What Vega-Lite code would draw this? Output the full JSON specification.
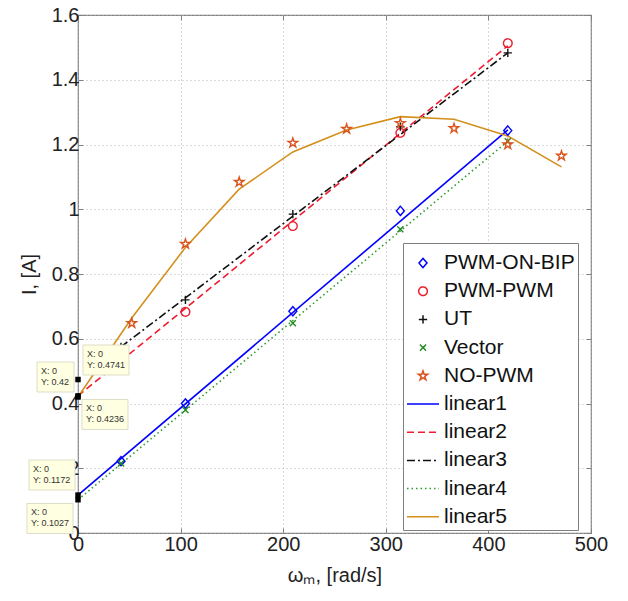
{
  "$schema": "https://vega.github.io/schema/vega-lite/v6.json",
  "width": 513,
  "height": 518,
  "autosize": {"type": "none"},
  "padding": {"left": 78, "top": 15, "right": 37, "bottom": 68},
  "background": "white",
  "config": {"view": {"stroke": "#808080", "strokeWidth": 1.2}, "font": "Liberation Sans"},
  "datasets": {
    "pts": [
      {"series": "PWM-ON-BIP", "w": 41.9, "i": 0.222},
      {"series": "PWM-ON-BIP", "w": 104.7, "i": 0.4},
      {"series": "PWM-ON-BIP", "w": 209.4, "i": 0.685},
      {"series": "PWM-ON-BIP", "w": 314.2, "i": 0.995},
      {"series": "PWM-ON-BIP", "w": 418.9, "i": 1.243},
      {"series": "PWM-PWM", "w": 104.7, "i": 0.683},
      {"series": "PWM-PWM", "w": 209.4, "i": 0.948},
      {"series": "PWM-PWM", "w": 314.2, "i": 1.236},
      {"series": "PWM-PWM", "w": 418.9, "i": 1.513},
      {"series": "UT", "w": 41.9, "i": 0.575},
      {"series": "UT", "w": 104.7, "i": 0.72},
      {"series": "UT", "w": 209.4, "i": 0.985},
      {"series": "UT", "w": 314.2, "i": 1.255},
      {"series": "UT", "w": 418.9, "i": 1.483},
      {"series": "Vector", "w": 41.9, "i": 0.215},
      {"series": "Vector", "w": 104.7, "i": 0.38},
      {"series": "Vector", "w": 209.4, "i": 0.648},
      {"series": "Vector", "w": 314.2, "i": 0.938},
      {"series": "Vector", "w": 418.9, "i": 1.21},
      {"series": "NO-PWM", "w": 52.4, "i": 0.648},
      {"series": "NO-PWM", "w": 104.7, "i": 0.893},
      {"series": "NO-PWM", "w": 157.1, "i": 1.084},
      {"series": "NO-PWM", "w": 209.4, "i": 1.205},
      {"series": "NO-PWM", "w": 261.8, "i": 1.248},
      {"series": "NO-PWM", "w": 314.2, "i": 1.266},
      {"series": "NO-PWM", "w": 366.5, "i": 1.25},
      {"series": "NO-PWM", "w": 418.9, "i": 1.2},
      {"series": "NO-PWM", "w": 471.2, "i": 1.165}
    ],
    "lines": [
      {"series": "linear1", "w": 0, "i": 0.1172},
      {"series": "linear1", "w": 418.9, "i": 1.245},
      {"series": "linear2", "w": 0, "i": 0.4236},
      {"series": "linear2", "w": 418.9, "i": 1.505},
      {"series": "linear3", "w": 41.9, "i": 0.575},
      {"series": "linear3", "w": 418.9, "i": 1.483},
      {"series": "linear4", "w": 0, "i": 0.1027},
      {"series": "linear4", "w": 418.9, "i": 1.21},
      {"series": "linear5", "w": 0, "i": 0.42},
      {"series": "linear5", "w": 52.4, "i": 0.664},
      {"series": "linear5", "w": 104.7, "i": 0.882},
      {"series": "linear5", "w": 157.1, "i": 1.062},
      {"series": "linear5", "w": 209.4, "i": 1.177},
      {"series": "linear5", "w": 261.8, "i": 1.245},
      {"series": "linear5", "w": 314.2, "i": 1.286},
      {"series": "linear5", "w": 366.5, "i": 1.278},
      {"series": "linear5", "w": 418.9, "i": 1.226},
      {"series": "linear5", "w": 471.2, "i": 1.131}
    ],
    "tips": [
      {"id": 1, "w": 0, "i": 0.4741, "label": "X: 0\nY: 0.4741"},
      {"id": 2, "w": 0, "i": 0.42, "label": "X: 0\nY: 0.42"},
      {"id": 3, "w": 0, "i": 0.4236, "label": "X: 0\nY: 0.4236"},
      {"id": 4, "w": 0, "i": 0.1172, "label": "X: 0\nY: 0.1172"},
      {"id": 5, "w": 0, "i": 0.1027, "label": "X: 0\nY: 0.1027"}
    ]
  },
  "encoding": {
    "x": {
      "field": "w", "type": "quantitative",
      "scale": {"domain": [0, 500], "nice": false, "zero": false},
      "axis": {
        "orient": "bottom", "values": [0, 100, 200, 300, 400, 500], "format": "d", "labelFlush": false,
        "grid": true, "gridColor": "#b4b4b4", "gridDash": [1, 3], "gridWidth": 1,
        "domain": false, "ticks": true, "tickSize": -5, "tickColor": "#808080",
        "labelFontSize": 20, "labelColor": "#222", "labelPadding": 6, "labelFont": "Liberation Sans",
        "title": "ωₘ, [rad/s]", "titleFontSize": 20, "titleFontWeight": "normal", "titleColor": "#222",
        "titleFont": "Liberation Sans", "titlePadding": 11
      }
    },
    "y": {
      "field": "i", "type": "quantitative",
      "scale": {"domain": [0, 1.6], "nice": false, "zero": false},
      "axis": {
        "orient": "left", "values": [0, 0.2, 0.4, 0.6, 0.8, 1, 1.2, 1.4, 1.6], "format": "~g", "labelFlush": false,
        "grid": true, "gridColor": "#b4b4b4", "gridDash": [1, 3], "gridWidth": 1,
        "domain": false, "ticks": true, "tickSize": -5, "tickColor": "#808080",
        "labelFontSize": 20, "labelColor": "#222", "labelPadding": 4, "labelFont": "Liberation Sans",
        "title": "I, [A]", "titleFontSize": 20, "titleFontWeight": "normal", "titleColor": "#222",
        "titleFont": "Liberation Sans", "titlePadding": 12
      }
    }
  },
  "layer": [
    {
      "data": {"name": "lines"},
      "layer": [
        {
          "transform": [{"filter": "datum.series == 'linear1'"}],
          "mark": {"type": "line", "strokeWidth": 1.6, "clip": false, "color": "#0000ff"},
          "encoding": {}
        },
        {
          "transform": [{"filter": "datum.series == 'linear2'"}],
          "mark": {"type": "line", "strokeWidth": 1.6, "clip": false, "color": "#ee1c2e", "strokeDash": [7, 4]},
          "encoding": {}
        },
        {
          "transform": [{"filter": "datum.series == 'linear3'"}],
          "mark": {"type": "line", "strokeWidth": 1.6, "clip": false, "color": "#111111", "strokeDash": [8, 3, 2, 3]},
          "encoding": {}
        },
        {
          "transform": [{"filter": "datum.series == 'linear4'"}],
          "mark": {"type": "line", "strokeWidth": 1.6, "clip": false, "color": "#2e9a2e", "strokeDash": [1.5, 3]},
          "encoding": {}
        },
        {
          "transform": [{"filter": "datum.series == 'linear5'"}],
          "mark": {"type": "line", "strokeWidth": 1.6, "clip": false, "color": "#d4901e"},
          "encoding": {}
        }
      ]
    },
    {
      "data": {"name": "pts"},
      "mark": {"type": "point", "filled": false, "size": 1024, "strokeWidth": 1.4, "opacity": 1},
      "encoding": {
        "x": {
          "field": "w", "type": "quantitative",
          "scale": {"domain": [0, 500], "nice": false, "zero": false},
          "axis": {"orient": "top", "values": [0, 100, 200, 300, 400, 500], "labels": false, "grid": false, "domain": false, "ticks": true, "tickSize": -5, "tickColor": "#808080", "title": null}
        },
        "y": {
          "field": "i", "type": "quantitative",
          "scale": {"domain": [0, 1.6], "nice": false, "zero": false},
          "axis": {"orient": "right", "values": [0, 0.2, 0.4, 0.6, 0.8, 1, 1.2, 1.4, 1.6], "labels": false, "grid": false, "domain": false, "ticks": true, "tickSize": -5, "tickColor": "#808080", "title": null}
        },
        "color": {
          "field": "series", "type": "nominal",
          "scale": {
            "domain": ["PWM-ON-BIP", "PWM-PWM", "UT", "Vector", "NO-PWM", "linear1", "linear2", "linear3", "linear4", "linear5"],
            "range": ["#0000ff", "#ee1c2e", "#111111", "#228b22", "#d9541e", "#0000ff", "#ee1c2e", "#111111", "#2e9a2e", "#d4901e"]
          },
          "legend": {
            "title": null, "orient": "none", "legendX": 325, "legendY": 228, "padding": 3,
            "fillColor": "white", "strokeColor": "#808080", "labelFont": "Liberation Sans", "labelFontSize": 21,
            "labelColor": "#111", "symbolSize": 1024, "symbolStrokeWidth": 1.5, "rowPadding": 1.2, "labelOffset": 4, "labelLimit": 300,
            "encode": {"symbols": {"update": {"fill": {"value": "transparent"}}}}
          }
        },
        "shape": {
          "field": "series", "type": "nominal",
          "scale": {
            "domain": ["PWM-ON-BIP", "PWM-PWM", "UT", "Vector", "NO-PWM", "linear1", "linear2", "linear3", "linear4", "linear5"],
            "range": [
              "M-0.25,0L0,-0.29L0.25,0L0,0.29Z",
              "M-0.27,0A0.27,0.27,0,1,0,0.27,0A0.27,0.27,0,1,0,-0.27,0Z",
              "M-0.26,0L0.26,0M0,-0.26L0,0.26",
              "M-0.19,-0.19L0.19,0.19M-0.19,0.19L0.19,-0.19",
              "M0,-0.31L0.0696,-0.0958L0.2948,-0.0958L0.1125,0.0366L0.1823,0.2508L0,0.1184L-0.1823,0.2508L-0.1125,0.0366L-0.2948,-0.0958L-0.0696,-0.0958Z",
              "stroke", "stroke", "stroke", "stroke", "stroke"
            ]
          },
          "legend": {
            "title": null, "orient": "none", "legendX": 325, "legendY": 228, "padding": 3,
            "fillColor": "white", "strokeColor": "#808080", "labelFont": "Liberation Sans", "labelFontSize": 21,
            "labelColor": "#111", "symbolSize": 1024, "symbolStrokeWidth": 1.5, "rowPadding": 1.2, "labelOffset": 4, "labelLimit": 300,
            "encode": {"symbols": {"update": {"fill": {"value": "transparent"}}}}
          }
        },
        "strokeDash": {
          "field": "series", "type": "nominal",
          "scale": {
            "domain": ["PWM-ON-BIP", "PWM-PWM", "UT", "Vector", "NO-PWM", "linear1", "linear2", "linear3", "linear4", "linear5"],
            "range": [[1, 0], [1, 0], [1, 0], [1, 0], [1, 0], [1, 0], [7, 4], [8, 3, 2, 3], [1.5, 3], [1, 0]]
          },
          "legend": {
            "title": null, "orient": "none", "legendX": 325, "legendY": 228, "padding": 3,
            "fillColor": "white", "strokeColor": "#808080", "labelFont": "Liberation Sans", "labelFontSize": 21,
            "labelColor": "#111", "symbolSize": 1024, "symbolStrokeWidth": 1.5, "rowPadding": 1.2, "labelOffset": 4, "labelLimit": 300,
            "encode": {"symbols": {"update": {"fill": {"value": "transparent"}}}}
          }
        }
      }
    },
    {
      "data": {"name": "tips"},
      "encoding": {
        "x": {"field": "w", "type": "quantitative", "axis": null, "scale": {"domain": [0, 500], "nice": false, "zero": false}},
        "y": {"field": "i", "type": "quantitative", "axis": null, "scale": {"domain": [0, 1.6], "nice": false, "zero": false}}
      },
      "layer": [
        {"transform": [{"filter": "datum.id == 1"}], "mark": {"type": "point", "shape": "M-1,-0.652L1,-0.652L1,0.652L-1,0.652Z", "size": 2116, "filled": true, "fill": "#ffffe1", "stroke": "#d4d4bc", "strokeWidth": 0.8, "opacity": 1, "xOffset": 28, "yOffset": -19.5}},
        {"transform": [{"filter": "datum.id == 1"}], "mark": {"type": "text", "align": "left", "baseline": "top", "lineBreak": "\n", "fontSize": 9, "lineHeight": 11, "font": "Liberation Sans", "color": "#333", "xOffset": 9, "yOffset": -30}, "encoding": {"text": {"field": "label"}}},
        {"transform": [{"filter": "datum.id == 2"}], "mark": {"type": "point", "shape": "M-1,-0.81L1,-0.81L1,0.81L-1,0.81Z", "size": 1369, "filled": true, "fill": "#ffffe1", "stroke": "#d4d4bc", "strokeWidth": 0.8, "opacity": 1, "xOffset": -22.5, "yOffset": -20}},
        {"transform": [{"filter": "datum.id == 2"}], "mark": {"type": "text", "align": "left", "baseline": "top", "lineBreak": "\n", "fontSize": 9, "lineHeight": 11, "font": "Liberation Sans", "color": "#333", "xOffset": -37, "yOffset": -30.5}, "encoding": {"text": {"field": "label"}}},
        {"transform": [{"filter": "datum.id == 3"}], "mark": {"type": "point", "shape": "M-1,-0.652L1,-0.652L1,0.652L-1,0.652Z", "size": 2116, "filled": true, "fill": "#ffffe1", "stroke": "#d4d4bc", "strokeWidth": 0.8, "opacity": 1, "xOffset": 27, "yOffset": 18.6}},
        {"transform": [{"filter": "datum.id == 3"}], "mark": {"type": "text", "align": "left", "baseline": "top", "lineBreak": "\n", "fontSize": 9, "lineHeight": 11, "font": "Liberation Sans", "color": "#333", "xOffset": 8, "yOffset": 8}, "encoding": {"text": {"field": "label"}}},
        {"transform": [{"filter": "datum.id == 4"}], "mark": {"type": "point", "shape": "M-1,-0.652L1,-0.652L1,0.652L-1,0.652Z", "size": 2116, "filled": true, "fill": "#ffffe1", "stroke": "#d4d4bc", "strokeWidth": 0.8, "opacity": 1, "xOffset": -26, "yOffset": -20}},
        {"transform": [{"filter": "datum.id == 4"}], "mark": {"type": "text", "align": "left", "baseline": "top", "lineBreak": "\n", "fontSize": 9, "lineHeight": 11, "font": "Liberation Sans", "color": "#333", "xOffset": -45, "yOffset": -30.5}, "encoding": {"text": {"field": "label"}}},
        {"transform": [{"filter": "datum.id == 5"}], "mark": {"type": "point", "shape": "M-1,-0.652L1,-0.652L1,0.652L-1,0.652Z", "size": 2116, "filled": true, "fill": "#ffffe1", "stroke": "#d4d4bc", "strokeWidth": 0.8, "opacity": 1, "xOffset": -28, "yOffset": 18.7}},
        {"transform": [{"filter": "datum.id == 5"}], "mark": {"type": "text", "align": "left", "baseline": "top", "lineBreak": "\n", "fontSize": 9, "lineHeight": 11, "font": "Liberation Sans", "color": "#333", "xOffset": -47, "yOffset": 8}, "encoding": {"text": {"field": "label"}}},
        {"mark": {"type": "point", "shape": "square", "size": 30, "filled": true, "color": "#000", "opacity": 1}}
      ]
    }
  ]
}
